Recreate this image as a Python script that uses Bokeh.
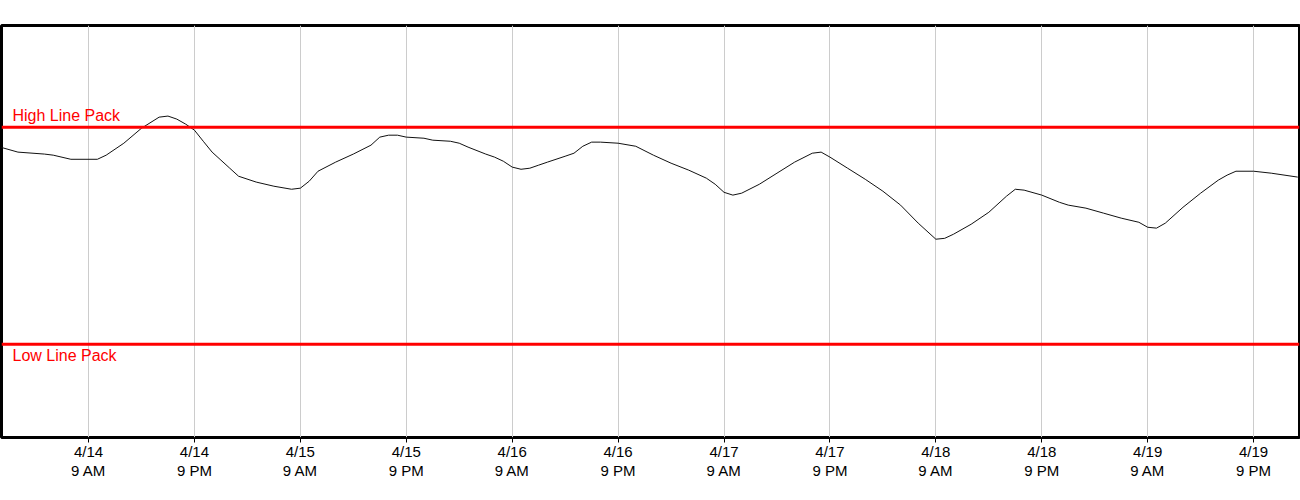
from bokeh.plotting import figure
from bokeh.models import Range1d, Span, Label, FixedTicker, ColumnDataSource
from bokeh.embed import file_html
from bokeh.resources import INLINE

# hours since 4/14 00:00
hours = [-1, 1, 4, 5, 7, 10, 11, 13, 15, 17, 18, 19, 20, 21, 22, 23, 24, 25, 26, 28,
         30, 32, 33, 34, 35, 37, 39, 41, 42, 43, 44, 45, 47, 48, 50, 51, 52, 54, 55, 56,
         57, 58, 59, 60, 61, 63, 64, 65, 66, 67, 69, 71, 73, 75, 77, 79, 80, 81, 82, 83,
         85, 87, 89, 91, 92, 93, 95, 97, 99, 101, 103, 105, 106, 107, 109, 111, 113, 114, 115, 117,
         119, 120, 122, 124, 126, 128, 129, 130, 131, 133, 135, 137, 138, 139, 141, 143, 146]
line_pack = [490.8, 488.5, 487.6, 487.1, 485.2, 485.2, 487.1, 492.6, 499.5, 504.6,
             505.1, 503.7, 501.4, 498.6, 493.5, 488.5, 484.8, 481.1, 477.4, 474.7,
             472.8, 471.4, 471.9, 475.1, 479.7, 483.9, 487.6, 491.7, 495.4, 496.3,
             496.3, 495.4, 494.9, 494.0, 493.5, 492.6, 490.8, 487.6, 486.2, 484.3,
             481.6, 480.6, 481.1, 482.5, 483.9, 486.6, 488.0, 491.2, 493.1, 493.1,
             492.6, 491.2, 487.1, 483.4, 480.2, 476.5, 473.7, 470.0, 468.7, 469.6,
             473.7, 478.8, 483.9, 488.0, 488.5, 486.2, 481.1, 476.0, 470.5, 464.1,
             455.8, 448.4, 448.8, 450.7, 455.3, 460.8, 468.2, 471.4, 471.0, 468.7,
             465.4, 464.1, 462.7, 460.4, 458.1, 456.2, 453.9, 453.5, 455.8, 463.1,
             469.6, 475.6, 477.9, 479.7, 479.7, 478.8, 477.0]
high_limit = 500
low_limit = 400
tick_hours = [9, 21, 33, 45, 57, 69, 81, 93, 105, 117, 129, 141]
tick_labels = ["4/14\n9 AM", "4/14\n9 PM", "4/15\n9 AM", "4/15\n9 PM",
               "4/16\n9 AM", "4/16\n9 PM", "4/17\n9 AM", "4/17\n9 PM",
               "4/18\n9 AM", "4/18\n9 PM", "4/19\n9 AM", "4/19\n9 PM"]

src = ColumnDataSource(data=dict(t=hours, v=line_pack))

p = figure(frame_width=1298, frame_height=412,
           x_range=Range1d(-0.86, 146.2), y_range=Range1d(357.1, 546.8),
           output_backend="svg", toolbar_location=None, y_axis_location=None,
           min_border_left=1, min_border_right=1, min_border_top=25, min_border_bottom=0)
p.background_fill_color = "white"
p.border_fill_color = "white"
p.outline_line_color = "black"
p.outline_line_width = 3
p.outline_line_alpha = 1.0

p.ygrid.visible = False
p.xgrid.grid_line_color = "#cccccc"
p.xgrid.grid_line_width = 1

ax = p.xaxis[0]
ax.ticker = FixedTicker(ticks=tick_hours)
ax.major_label_overrides = dict(zip(tick_hours, tick_labels))
ax.axis_line_color = None
ax.major_tick_line_color = "black"
ax.major_tick_out = 5
ax.major_tick_in = 0
ax.minor_tick_line_color = None
ax.major_label_text_font = "Liberation Sans"
ax.major_label_text_font_size = "15px"
ax.major_label_text_color = "black"
ax.major_label_text_line_height = 1.15
ax.major_label_standoff = 0

p.line("t", "v", source=src, line_color="#111111", line_width=1)

for lim in (high_limit, low_limit):
    p.add_layout(Span(location=lim, dimension="width", line_color="red", line_width=3))

p.add_layout(Label(x=-0.86, y=high_limit, x_offset=11, y_offset=3, text="High Line Pack",
                   text_color="red", text_font="Liberation Sans", text_font_size="16px",
                   text_baseline="bottom"))
p.add_layout(Label(x=-0.86, y=low_limit, x_offset=11, y_offset=-3, text="Low Line Pack",
                   text_color="red", text_font="Liberation Sans", text_font_size="16px",
                   text_baseline="top"))

open("out.html", "w").write(file_html(p, INLINE))
